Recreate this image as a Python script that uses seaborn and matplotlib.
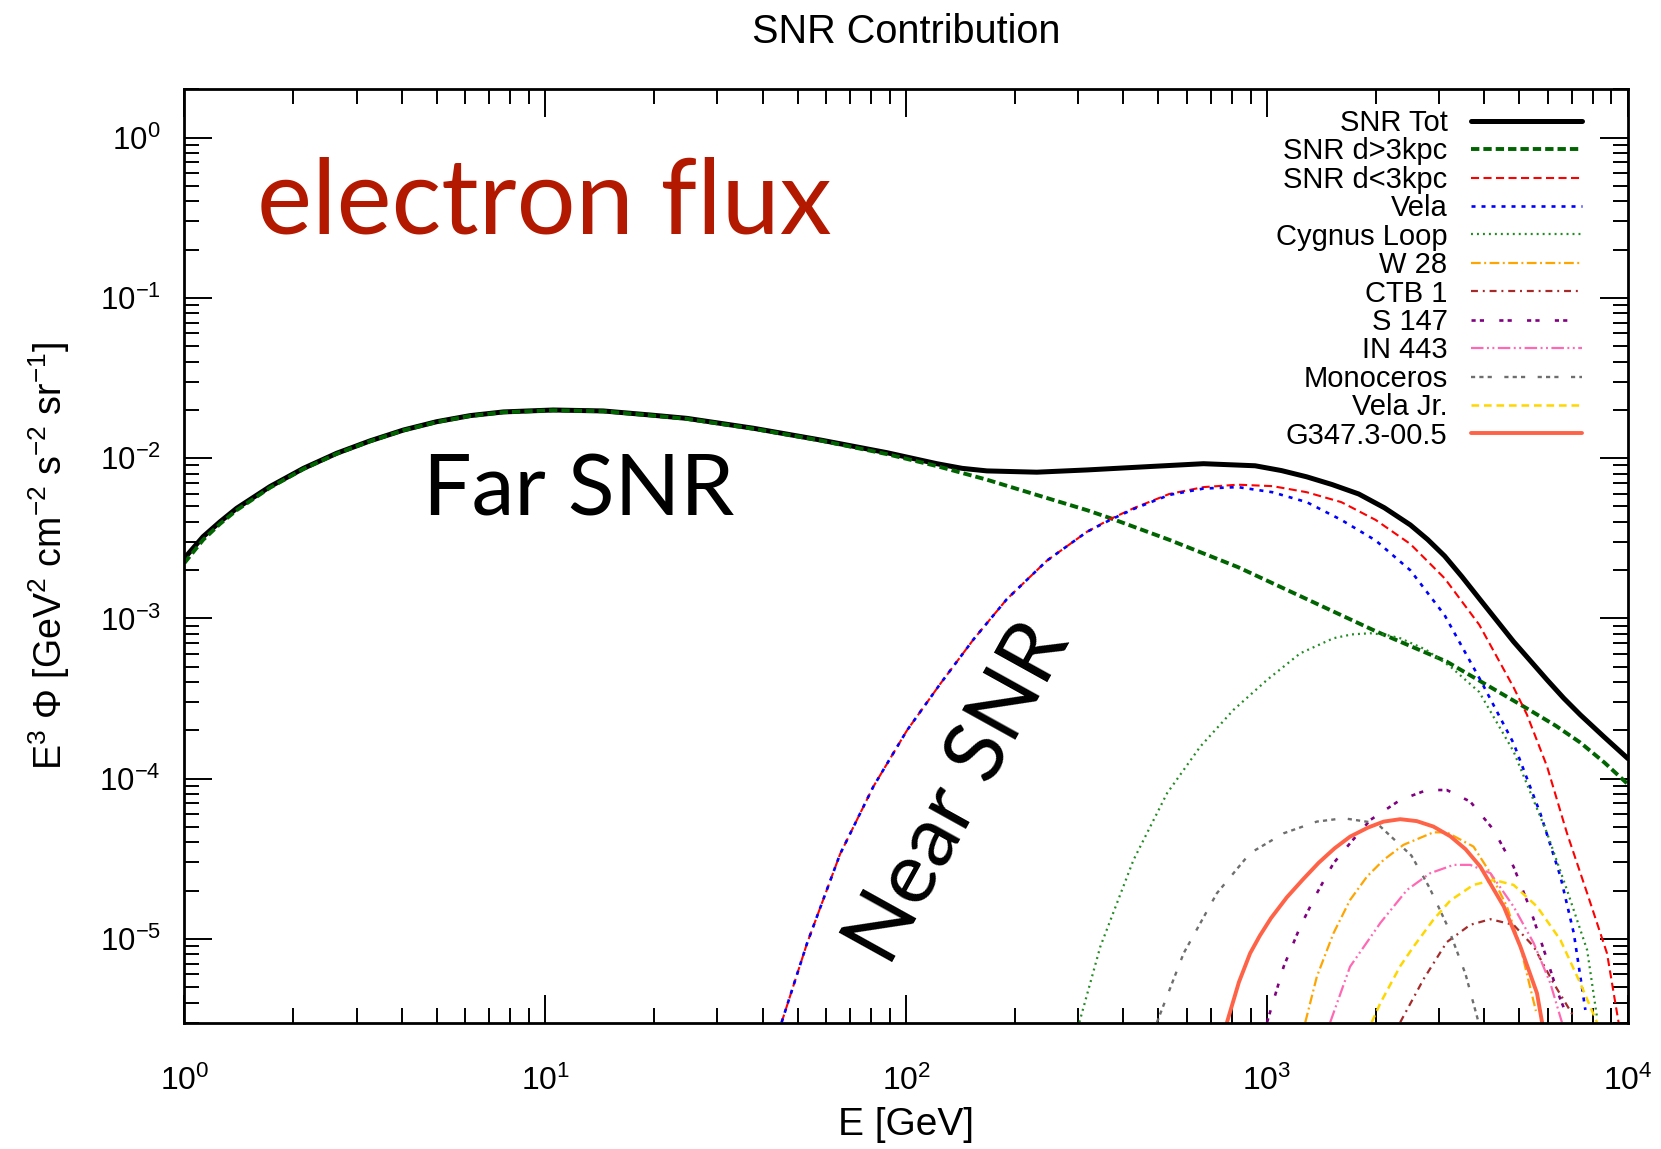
import numpy as np
import pandas as pd
import matplotlib
matplotlib.use("Agg")
import matplotlib.pyplot as plt
import seaborn as sns
from matplotlib.ticker import LogLocator, NullFormatter

# ---------------- data: log10(E / GeV) and log10(E^3 Phi) ----------------
tot_logE = [0.0, 0.052, 0.099, 0.145, 0.237, 0.330, 0.422, 0.514, 0.607, 0.699, 0.792, 0.884, 1.022,
            1.161, 1.290, 1.392, 1.577, 1.762, 1.946, 2.085, 2.155, 2.224, 2.362, 2.501, 2.681, 2.824,
            2.967, 3.040, 3.110, 3.180, 3.254, 3.325, 3.397, 3.445, 3.492, 3.540, 3.591, 3.683, 3.776,
            3.822, 3.868, 3.933, 4.0]
tot_logF = [-2.625, -2.49, -2.397, -2.313, -2.178, -2.064, -1.970, -1.893, -1.825, -1.773, -1.735, -1.712, -1.700,
            -1.706, -1.731, -1.752, -1.814, -1.887, -1.966, -2.035, -2.064, -2.08, -2.088, -2.074, -2.052, -2.035,
            -2.048, -2.078, -2.117, -2.165, -2.224, -2.31, -2.417, -2.508, -2.611, -2.74, -2.885, -3.145, -3.384,
            -3.498, -3.602, -3.738, -3.875]

far_logE = [0.0, 0.052, 0.099, 0.145, 0.237, 0.330, 0.422, 0.514, 0.607, 0.699, 0.792, 0.884, 1.022,
            1.161, 1.290, 1.392, 1.577, 1.762, 1.946, 2.085, 2.224, 2.362, 2.501, 2.566, 2.729,
            2.919, 3.110, 3.301, 3.498, 3.711, 3.800, 3.868, 3.935, 4.0]
far_logF = [-2.655, -2.51, -2.41, -2.325, -2.185, -2.068, -1.973, -1.895, -1.827, -1.775, -1.737, -1.714, -1.702,
            -1.708, -1.733, -1.755, -1.817, -1.890, -1.975, -2.05, -2.135, -2.23, -2.325, -2.375, -2.51,
            -2.68, -2.88, -3.08, -3.27, -3.55, -3.67, -3.775, -3.90, -4.035]

near_logE = [1.655, 1.725, 1.817, 1.909, 2.002, 2.094, 2.187, 2.279, 2.390, 2.501, 2.566, 2.633,
             2.729, 2.824, 2.919, 3.015, 3.110, 3.206, 3.301, 3.397, 3.492, 3.588, 3.683, 3.720,
             3.776, 3.831, 3.887, 3.942, 3.974]
near_logF = [-5.52, -5.03, -4.47, -4.05, -3.70, -3.41, -3.13, -2.88, -2.64, -2.46, -2.38, -2.31,
             -2.224, -2.181, -2.166, -2.175, -2.213, -2.275, -2.386, -2.536, -2.75, -3.04, -3.43, -3.60,
             -3.925, -4.34, -4.715, -5.09, -5.52]

vela_logE = [1.655, 1.725, 1.817, 1.909, 2.002, 2.094, 2.187, 2.279, 2.390, 2.501, 2.566, 2.633,
             2.729, 2.824, 2.919, 3.015, 3.110, 3.206, 3.301, 3.397, 3.492, 3.591, 3.683, 3.757,
             3.813, 3.850, 3.882]
vela_logF = [-5.52, -5.03, -4.47, -4.05, -3.70, -3.41, -3.13, -2.88, -2.64, -2.46, -2.385, -2.315,
             -2.23, -2.19, -2.181, -2.213, -2.275, -2.386, -2.514, -2.70, -2.98, -3.384, -3.779, -4.216,
             -4.611, -4.965, -5.443]

cyg_logE = [2.480, 2.538, 2.630, 2.723, 2.815, 2.907, 3.000, 3.092, 3.184, 3.235, 3.286, 3.330, 3.369,
            3.440, 3.508, 3.588, 3.683, 3.776, 3.831, 3.887, 3.915]
cyg_logF = [-5.52, -5.048, -4.507, -4.091, -3.800, -3.571, -3.384, -3.218, -3.124, -3.100, -3.093, -3.103, -3.124,
            -3.195, -3.301, -3.46, -3.83, -4.341, -4.694, -5.07, -5.5]

w28_logE = [3.106, 3.138, 3.184, 3.230, 3.277, 3.323, 3.378, 3.461, 3.498, 3.572, 3.619, 3.665, 3.702, 3.745]
w28_logF = [-5.52, -5.235, -4.965, -4.757, -4.611, -4.507, -4.413, -4.335, -4.335, -4.424, -4.59, -4.80, -5.05, -5.45]

ctb_logE = [3.369, 3.434, 3.498, 3.563, 3.619, 3.683, 3.739, 3.794, 3.850]
ctb_logF = [-5.52, -5.25, -5.02, -4.912, -4.877, -4.912, -5.048, -5.277, -5.485]

s147_logE = [3.0, 3.046, 3.092, 3.138, 3.184, 3.230, 3.286, 3.369, 3.443, 3.498, 3.563, 3.628,
             3.683, 3.730, 3.776, 3.803, 3.831]
s147_logF = [-5.52, -5.173, -4.923, -4.715, -4.528, -4.403, -4.258, -4.133, -4.071, -4.071, -4.143, -4.32,
             -4.549, -4.818, -5.13, -5.32, -5.48]

in443_logE = [3.175, 3.230, 3.314, 3.388, 3.452, 3.517, 3.563, 3.619, 3.683, 3.739, 3.785, 3.817]
in443_logF = [-5.52, -5.173, -4.90, -4.694, -4.59, -4.538, -4.538, -4.59, -4.798, -5.027, -5.277, -5.52]

mono_logE = [2.695, 2.769, 2.861, 2.953, 3.046, 3.138, 3.212, 3.304, 3.40, 3.45, 3.50, 3.55, 3.586]
mono_logF = [-5.52, -5.089, -4.715, -4.465, -4.341, -4.268, -4.247, -4.278, -4.48, -4.68, -4.92, -5.22, -5.52]

velajr_logE = [3.29, 3.314, 3.369, 3.406, 3.461, 3.508, 3.572, 3.628, 3.683, 3.748, 3.813, 3.868, 3.914]
velajr_logF = [-5.52, -5.40, -5.17, -5.048, -4.88, -4.76, -4.663, -4.632, -4.663, -4.798, -5.007, -5.277, -5.52]

g347_logE = [2.889, 2.922, 2.953, 2.980, 3.011, 3.055, 3.099, 3.143, 3.187, 3.230, 3.280, 3.323, 3.369,
             3.415, 3.461, 3.508, 3.550, 3.591, 3.656, 3.702, 3.748, 3.762]
g347_logF = [-5.52, -5.27, -5.09, -4.98, -4.87, -4.74, -4.63, -4.525, -4.435, -4.362, -4.305, -4.268, -4.253,
             -4.265, -4.299, -4.36, -4.44, -4.549, -4.798, -5.048, -5.339, -5.52]

labels = ["SNR Tot", "SNR d>3kpc", "SNR d<3kpc", "Vela", "Cygnus Loop", "W 28", "CTB 1",
          "S 147", "IN 443", "Monoceros", "Vela Jr.", "G347.3-00.5"]
colors = ["#000000", "#006400", "#FF0000", "#0000FF", "#228B22", "#FFA500", "#A52A2A",
          "#800080", "#FF69B4", "#6E6E6E", "#FFD700", "#FF6347"]
widths = [3.6, 2.8, 1.5, 1.9, 1.6, 1.6, 1.6, 1.9, 1.6, 1.7, 1.8, 2.8]
styles = ["-", (0, (6.0, 2.9)), (0, (5.8, 3.2)), (0, (2.9, 4.3)), (0, (1.4, 2.9)),
          (0, (7.0, 2.5, 1.4, 2.5)), (0, (5.0, 3.5, 1.4, 3.5)), (0, (3.0, 3.0, 3.0, 11.0)),
          (0, (9.0, 2.5, 1.4, 2.5, 1.4, 2.5)), (0, (3.0, 3.0, 3.0, 3.0, 3.0, 9.0)),
          (0, (5.5, 3.5)), "-"]

series = [(tot_logE, tot_logF), (far_logE, far_logF), (near_logE, near_logF), (vela_logE, vela_logF),
          (cyg_logE, cyg_logF), (w28_logE, w28_logF), (ctb_logE, ctb_logF), (s147_logE, s147_logF),
          (in443_logE, in443_logF), (mono_logE, mono_logF), (velajr_logE, velajr_logF),
          (g347_logE, g347_logF)]

# ---------------- style ----------------
sns.set_theme(style="ticks")
plt.rcParams["font.family"] = ["Liberation Sans", "DejaVu Sans"]
plt.rcParams["mathtext.fontset"] = "custom"
plt.rcParams["mathtext.rm"] = "Liberation Sans"
plt.rcParams["mathtext.it"] = "Liberation Sans:italic"
plt.rcParams["mathtext.bf"] = "Liberation Sans:bold"
plt.rcParams["mathtext.default"] = "regular"
plt.rcParams["lines.scale_dashes"] = False
plt.rcParams["axes.unicode_minus"] = False
for key in ["text.color", "axes.labelcolor", "xtick.color", "ytick.color", "axes.edgecolor"]:
    plt.rcParams[key] = "black"

fig = plt.figure(figsize=(16.61, 11.49), dpi=100)
ax = fig.add_axes([0.1110, 0.1099, 0.8691, 0.8124])
ax.set_xscale("log")
ax.set_yscale("log")

for (lx, ly), lab, c, w, s in zip(series, labels, colors, widths, styles):
    df = pd.DataFrame({"E": np.power(10.0, lx), "F": np.power(10.0, ly)})
    sns.lineplot(data=df, x="E", y="F", ax=ax, color=c, linewidth=w, linestyle=s,
                 label=lab, sort=False, estimator=None, legend=False)

ax.set_xlim(1, 1e4)
ax.set_ylim(3e-6, 2)

ax.xaxis.set_major_locator(LogLocator(base=10, numticks=10))
ax.xaxis.set_minor_locator(LogLocator(base=10, subs=np.arange(2, 10), numticks=20))
ax.yaxis.set_major_locator(LogLocator(base=10, numticks=10))
ax.yaxis.set_minor_locator(LogLocator(base=10, subs=np.arange(2, 10), numticks=20))
ax.xaxis.set_minor_formatter(NullFormatter())
ax.yaxis.set_minor_formatter(NullFormatter())

ax.tick_params(which="both", direction="in", top=True, right=True, color="black", width=1.4)
ax.tick_params(which="major", length=20)
ax.tick_params(which="minor", length=10.5)
ax.tick_params(axis="x", which="major", pad=31, labelsize=23)
ax.tick_params(axis="y", which="major", pad=17, labelsize=22.5)
for sp in ax.spines.values():
    sp.set_linewidth(2.0)
    sp.set_color("black")

ax.set_xlabel("E [GeV]", fontsize=28, labelpad=7)
ax.set_ylabel(r"E$^3$ Φ [GeV$^2$ cm$^{-2}$ s$^{-2}$ sr$^{-1}$]", fontsize=27, labelpad=20)
ax.set_title("SNR Contribution", fontsize=28.5, pad=33)

leg = ax.legend(loc="upper right", bbox_to_anchor=(0.968, 0.979), frameon=False,
                markerfirst=False, fontsize=21, handlelength=3.8, handletextpad=0.8,
                labelspacing=0.015, borderpad=0, borderaxespad=0)

ax.text(0.0503, 0.846, "electron flux", transform=ax.transAxes, fontsize=75,
        family="Lato", color="#B31800", ha="left", va="baseline")
ax.text(0.165, 0.543, "Far SNR", transform=ax.transAxes, fontsize=62,
        family="Lato", color="black", ha="left", va="baseline")
ax.text(0.537, 0.245, "Near SNR", transform=ax.transAxes, fontsize=62,
        family="Lato", color="black", ha="center", va="center", rotation=61,
        rotation_mode="anchor")

fig.savefig("out.png", dpi=100)
